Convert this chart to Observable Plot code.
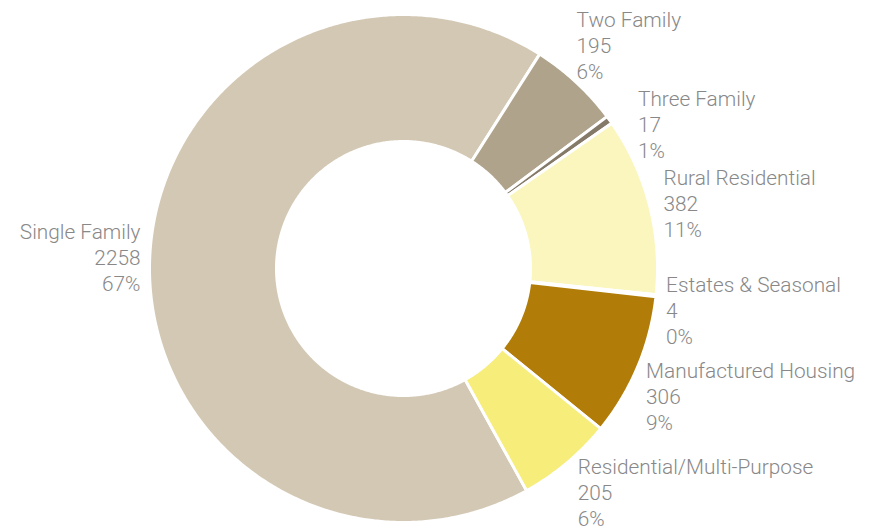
<!DOCTYPE html>
<html>
<head>
<meta charset="utf-8">
<script src="https://cdn.jsdelivr.net/npm/d3@7"></script>
<script src="https://cdn.jsdelivr.net/npm/@observablehq/plot@0.6"></script>
<style>
  html, body { margin: 0; padding: 0; background: #fff; }
  #chart { width: 870px; height: 530px; }
</style>
</head>
<body>
<div id="chart"></div>
<script>
const categories = ["Single Family", "Two Family", "Three Family", "Rural Residential", "Estates & Seasonal", "Manufactured Housing", "Residential/Multi-Purpose"];
const counts = [2258, 195, 17, 382, 4, 306, 205];
const colors = ["#d3c8b4", "#afa38b", "#857a68", "#faf6bd", "#fbf8dc", "#b17d08", "#f6ed7a"];

const startAngle = 151;      // degrees, clockwise from 12 o'clock
const innerRatio = 0.5;
const total = d3.sum(counts);

// Slice polygons on the unit circle (y up)
const rad = d => d * Math.PI / 180;
const slices = [];
let a = startAngle;
categories.forEach((name, i) => {
  const span = counts[i] / total * 360;
  slices.push({name, count: counts[i], a0: a, a1: a + span, pct: Math.round(counts[i] / total * 100)});
  a += span;
});

const pts = [];
for (const s of slices) {
  const n = Math.max(2, Math.ceil((s.a1 - s.a0) / 0.5) + 1);
  for (let k = 0; k < n; k++) {
    const t = rad(s.a0 + (s.a1 - s.a0) * k / (n - 1));
    pts.push({name: s.name, x: Math.sin(t), y: Math.cos(t)});
  }
  for (let k = n - 1; k >= 0; k--) {
    const t = rad(s.a0 + (s.a1 - s.a0) * k / (n - 1));
    pts.push({name: s.name, x: innerRatio * Math.sin(t), y: innerRatio * Math.cos(t)});
  }
}

// Label layout (units: outer radius = 1)
const R = 254;
const line = 26 / R;
const rl = 263 / R;
const spacing = 79 / R;
const bottomLimit = -(530 - 268 - 13) / R;   // lowest allowed centre of the last text line
const labels = slices.map(s => {
  const m = rad((s.a0 + s.a1) / 2);
  const ay = rl * Math.cos(m);
  const shift = Math.max(-1, Math.min(1.2, 4.5 * Math.cos(m)));
  return {text: `${s.name}\n${s.count}\n${s.pct}%`, right: Math.sin(m) >= 0, y: ay + line * shift};
});
for (const side of [true, false]) {
  const g = labels.filter(l => l.right === side).sort((p, q) => q.y - p.y);
  for (let i = 1; i < g.length; i++) g[i].y = Math.min(g[i].y, g[i - 1].y - spacing);
}
for (const l of labels) {
  l.y = Math.max(l.y, bottomLimit + line);
  let dy = 0;
  if (l.y - line > 0) dy = l.y - line;
  else if (l.y + line < 0) dy = l.y + line;
  const dx = Math.sqrt(Math.max(0, rl * rl - dy * dy));
  l.x = l.right ? dx : -dx;
}

const textOpts = {x: "x", y: "y", text: "text", lineAnchor: "middle", lineHeight: 1.25, fontSize: 20.8, fontWeight: 300, fill: "#888888"};

const chart = Plot.plot({
  width: 870,
  height: 530,
  margin: 0,
  x: {domain: [-1, 1], range: [403 - R, 403 + R], axis: null},
  y: {domain: [-1, 1], range: [268 + R, 268 - R], axis: null},
  color: {domain: categories, range: colors},
  style: {fontFamily: "Roboto, sans-serif", background: "#fff"},
  marks: [
    Plot.line(pts, {x: "x", y: "y", z: "name", fill: "name", stroke: "white", strokeWidth: 3, strokeLinejoin: "round", curve: "linear-closed"}),
    Plot.text(labels.filter(l => l.right), {...textOpts, textAnchor: "start"}),
    Plot.text(labels.filter(l => !l.right), {...textOpts, textAnchor: "end"})
  ]
});
document.getElementById("chart").appendChild(chart);
</script>
</body>
</html>
